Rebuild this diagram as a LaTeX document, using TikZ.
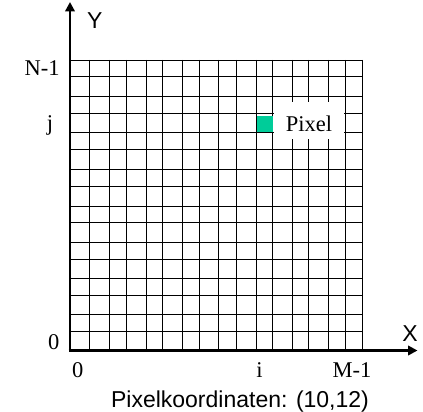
\documentclass[tikz,border=0pt]{standalone}
\usepackage{fontspec}
\setmainfont{Liberation Serif}
\newfontfamily\labsans{Liberation Sans}
\usetikzlibrary{arrows.meta}
\definecolor{pixgreen}{RGB}{0,204,153}
\begin{document}
\begin{tikzpicture}[x=1pt,y=-1pt,
  gridline/.style={line width=1.3pt,black},
  axisline/.style={line width=2.6pt,black,-{Triangle[length=9.5pt,width=9.5pt]}},
  seriflab/.style={font=\fontsize{22.5}{24}\selectfont,inner sep=0pt,anchor=base},
  sanslab/.style={font=\labsans\fontsize{23}{25}\selectfont,inner sep=0pt,anchor=base},
  pixelsq/.style={fill=pixgreen,inner sep=0pt,minimum width=16pt,minimum height=15.7pt,draw=none},
  labelbox/.style={fill=white,draw=none,inner sep=0pt,minimum width=70pt,minimum height=36.5pt}]
\useasboundingbox (0,0) rectangle (423,412);
% grid
\foreach \gx in {89.5,109.5,126.5,146.5,162.5,182.5,199.5,218.5,236.5,256.5,272.5,292.5,308.5,328.5,345.5,362.5}
  \draw[gridline] (\gx,60) -- (\gx,350);
\foreach \gy in {60.5,76.5,96.5,113.5,132.5,149.5,169.5,186.5,206.5,222.5,242.5,259.5,278.5,295.5,314.5,331.5}
  \draw[gridline] (70,\gy) -- (363.1,\gy);
% label box and pixel
\node[labelbox] (pixbox) at (308.7,120.7) {};
\node[pixelsq] (pixel) at (264.9,123.85) {};
\node[seriflab] (pixtext) at (309,131) {Pixel};
% axes
\coordinate (origin) at (70,350.5);
\coordinate (ytip) at (70,2);
\coordinate (xtip) at (417.5,350.5);
\draw[axisline] ([yshift=1.3pt]origin) -- (ytip);
\draw[axisline] ([xshift=-1.3pt]origin) -- (xtip);
% axis names
\node[sanslab] (ylab) at (94.7,28.3) {Y};
\node[sanslab] (xlab) at (410,341.7) {X};
% serif labels
\node[seriflab] (nlab) at (42.2,76) {N-1};
\node[seriflab] (jlab) at (50,130) {j};
\node[seriflab] (zeroy) at (53.7,349) {0};
\node[seriflab] (zerox) at (77.8,377.7) {0};
\node[seriflab] (ilab) at (259.5,377) {i};
\node[seriflab] (mlab) at (352,377.5) {M-1};
% caption
\node[sanslab] (caption) at (240,407.3) {Pixelkoordinaten: (10,12)};
\end{tikzpicture}
\end{document}
